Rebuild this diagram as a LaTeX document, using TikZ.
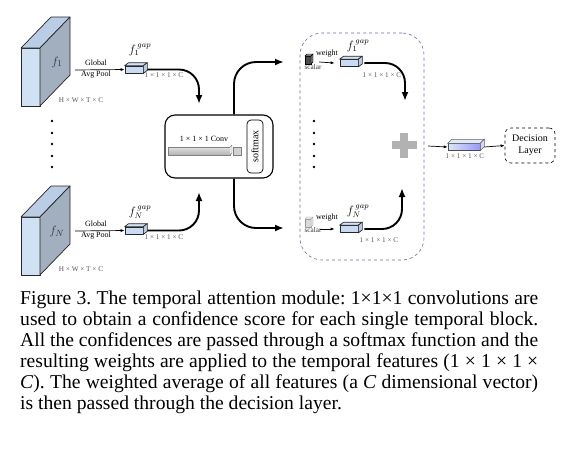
\documentclass[tikz,border=0pt]{standalone}
\usepackage{fontspec}
\setmainfont{Liberation Serif}
\usetikzlibrary{arrows.meta}
\definecolor{frontc}{HTML}{CFE1F3}
\definecolor{topc}{HTML}{B9CEE4}
\definecolor{sidec}{HTML}{A2AFBF}
\definecolor{gapc}{HTML}{C9DBF4}
\definecolor{dashc}{HTML}{6A6AB8}
\definecolor{lblc}{HTML}{555555}
\begin{document}
\begin{tikzpicture}[x=1pt,y=-1pt,
  edge/.style={draw=black!85,line width=0.7pt,line join=round},
  thinarrow/.style={line width=0.7pt,-{Latex[length=4pt,width=3pt]}},
  thickarrow/.style={line width=1.9pt,rounded corners=20pt,-{Latex[length=9pt,width=7pt]}},
  gapfront/.style={edge,fill=gapc,minimum width=18pt,minimum height=7pt,inner sep=0pt},
  tiny/.style={font=\fontsize{7.2}{8}\selectfont,text=lblc,inner sep=0pt},
  small/.style={font=\fontsize{8}{9}\selectfont,inner sep=0pt},
  gaplbl/.style={font=\fontsize{12}{12}\selectfont,inner sep=0pt},
  dotc/.style={circle,fill=black,inner sep=0pt,minimum size=2.6pt}
]
\useasboundingbox (0,0) rectangle (572,448);

% ---------- slabs ----------
\foreach \yy/\nm/\lab in {48/s1/{f_1},217/sN/{f_N}}{
  \draw[edge,fill=frontc] (21,\yy) rectangle (40,\yy+58);
  \draw[edge,fill=topc] (21,\yy) -- (51,\yy-31) -- (70,\yy-31) -- (40,\yy) -- cycle;
  \draw[edge,fill=sidec] (40,\yy) -- (70,\yy-31) -- (70,\yy+27) -- (40,\yy+58) -- cycle;
  \node[font=\fontsize{13}{13}\selectfont,text=black!80,inner sep=0pt] (\nm) at (57,\yy+14) {$\lab$};
  \node[tiny] at (81,\yy+52) {H × W × T × C};
}

% ---------- global avg pool arrows and gap boxes ----------
\coordinate (a1) at (75,70);
\coordinate (aN) at (75,231);
\node[gapfront] (g1) at (134,69.5) {};
\node[gapfront] (gN) at (134,230.5) {};
\foreach \g in {g1,gN}{
  \draw[edge,fill=gapc!80] (\g.north west) -- ++(4,-3) -- ([shift={(4,-3)}]\g.north east) -- (\g.north east) -- cycle;
  \draw[edge,fill=gapc!60!sidec] (\g.north east) -- ++(4,-3) -- ([shift={(4,-3)}]\g.south east) -- (\g.south east) -- cycle;
}
\draw[thinarrow] (a1) -- (g1.west);
\draw[thinarrow] (aN) -- (gN.west);
\node[small] at (96,63) {Global};
\node[small] at (96,75) {Avg Pool};
\node[small] at (96,224) {Global};
\node[small] at (96,236) {Avg Pool};
\node[gaplbl] at (140,50) {$f_1^{\,gap}$};
\node[gaplbl] at (140,212) {$f_N^{\,gap}$};
\node[tiny] at (164,75) {1 × 1 × 1 × C};
\node[tiny] at (164,237) {1 × 1 × 1 × C};

% ---------- conv box ----------
\node[draw,line width=1.1pt,rounded corners=10pt,minimum width=108pt,minimum height=63pt,inner sep=0pt] (conv) at (219,146.5) {};
\node[small] (convl) at (204,139) {1 × 1 × 1 Conv};
\draw[line width=0.4pt,draw=black!50,top color=black!12,bottom color=black!30] (168,147) rectangle (230,155);
\draw[line width=0.4pt,draw=black!50,fill=black!8] (230,147) -- (232,145) -- (232,153) -- (230,155);
\draw[line width=0.4pt,draw=black!50,fill=black!18] (233,147) rectangle (241,155);
\node[draw,line width=0.7pt,rounded corners=4pt,minimum width=16pt,minimum height=53pt,inner sep=0pt] (smax) at (255,146.5) {};
\node[font=\fontsize{10}{10}\selectfont,rotate=90,inner sep=0pt] at (smax.center) {softmax};

\coordinate (t1) at (199,104);
\coordinate (tN) at (199,192);
\draw[thickarrow] ([xshift=4pt]g1.east) -| (t1);
\draw[thickarrow] ([xshift=4pt]gN.east) -| (tN);

\coordinate (o1) at (284,62);
\coordinate (oN) at (284,228);
\draw[thickarrow,rounded corners=22pt] ([xshift=15pt]conv.north) |- (o1);
\draw[thickarrow,rounded corners=22pt] ([xshift=15pt]conv.south) |- (oN);

% ---------- dots ----------
\foreach \y in {121,133,144,156,167}{
  \node[dotc] at (52,\y) {};
  \node[dotc] at (314,\y) {};
}

% ---------- dashed region ----------
\node[draw=dashc,dashed,line width=0.6pt,rounded corners=22pt,minimum width=124pt,minimum height=227pt,inner sep=0pt] (region) at (362,146.5) {};

% scalar icons
\draw[line width=0.4pt,fill=black!70] (305,56) rectangle (311,64);
\draw[line width=0.4pt,fill=black!45] (305,56) -- (307,54) -- (313,54) -- (311,56) -- cycle;
\draw[line width=0.4pt,fill=black!55] (311,56) -- (313,54) -- (313,62) -- (311,64) -- cycle;
\draw[line width=0.3pt,draw=black!40,fill=black!15] (305,219) rectangle (311,227);
\draw[line width=0.3pt,draw=black!40,fill=black!8] (305,219) -- (307,217) -- (313,217) -- (311,219) -- cycle;
\draw[line width=0.3pt,draw=black!40,fill=black!12] (311,219) -- (313,217) -- (313,225) -- (311,227) -- cycle;
\node[tiny,text=black!80] (sc1) at (313,67) {scalar};
\node[tiny,text=black!80] (scN) at (313,230) {scalar};
\coordinate (w1) at (319,62);
\coordinate (wN) at (320,229);

\node[gapfront] (h1) at (349,63) {};
\node[gapfront] (hN) at (349,229) {};
\foreach \g in {h1,hN}{
  \draw[edge,fill=gapc!80] (\g.north west) -- ++(4,-3) -- ([shift={(4,-3)}]\g.north east) -- (\g.north east) -- cycle;
  \draw[edge,fill=gapc!60!sidec] (\g.north east) -- ++(4,-3) -- ([shift={(4,-3)}]\g.south east) -- (\g.south east) -- cycle;
}
\draw[thinarrow] (w1) -- ([xshift=-5pt]h1.west);
\draw[thinarrow] (wN) -- ([xshift=-5pt]hN.west);
\node[small] at (327,54) {weight};
\node[small] at (327,218) {weight};
\node[gaplbl] at (358,46) {$f_1^{\,gap}$};
\node[gaplbl] at (358,211) {$f_N^{\,gap}$};
\node[tiny] at (382,75) {1 × 1 × 1 × C};
\node[tiny] at (379,240) {1 × 1 × 1 × C};

\coordinate (p1) at (405,101);
\coordinate (pN) at (402,188);
\draw[thickarrow] ([xshift=6pt]h1.east) -| (p1);
\draw[thickarrow] ([xshift=6pt]hN.east) -| (pN);

% plus sign
\node[fill=black!30,minimum width=25pt,minimum height=8pt,inner sep=0pt] (plus) at (404,145) {};
\fill[black!30] (400,132.5) rectangle (408,157.5);

% output
\node[draw=black!70,line width=0.5pt,minimum width=32pt,minimum height=7pt,inner sep=0pt,left color=gapc!70,right color=gapc!40!blue!60] (outv) at (464,147) {};
\draw[line width=0.5pt,draw=black!60,fill=gapc!60] (outv.north west) -- ++(4,-4) -- ([shift={(4,-4)}]outv.north east) -- (outv.north east) -- cycle;
\draw[line width=0.5pt,draw=black!60,fill=gapc!80!blue!50] (outv.north east) -- ++(4,-4) -- ([shift={(4,-4)}]outv.south east) -- (outv.south east) -- cycle;
\coordinate (q1) at (428,146);
\draw[thinarrow] (q1) -- (outv.west);
\node[tiny] at (465,156) {1 × 1 × 1 × C};
\node[draw,dashed,line width=0.6pt,rounded corners=6pt,minimum width=50pt,minimum height=35pt,inner sep=0pt,align=center,font=\fontsize{10}{12}\selectfont] (dec) at (530,145.5) {Decision\\Layer};
\draw[thinarrow] ([xshift=4pt]outv.east) -- (dec.west);

% ---------- caption ----------
\node[anchor=north west,inner sep=0pt,text width=518pt,align=justify,font=\fontsize{19.6}{21}\selectfont] (cap) at (20,291) {\frenchspacing Figure 3. The temporal attention module: 1×1×1 convolutions are\linebreak
used to obtain a confidence score for each single temporal block.\linebreak
All the confidences are passed through a softmax function and the\linebreak
resulting weights are applied to the temporal features (1 × 1 × 1 ×\linebreak
\textit{C}). The weighted average of all features (a \textit{C} dimensional vector)\linebreak
is then passed through the decision layer.};
\end{tikzpicture}
\end{document}
